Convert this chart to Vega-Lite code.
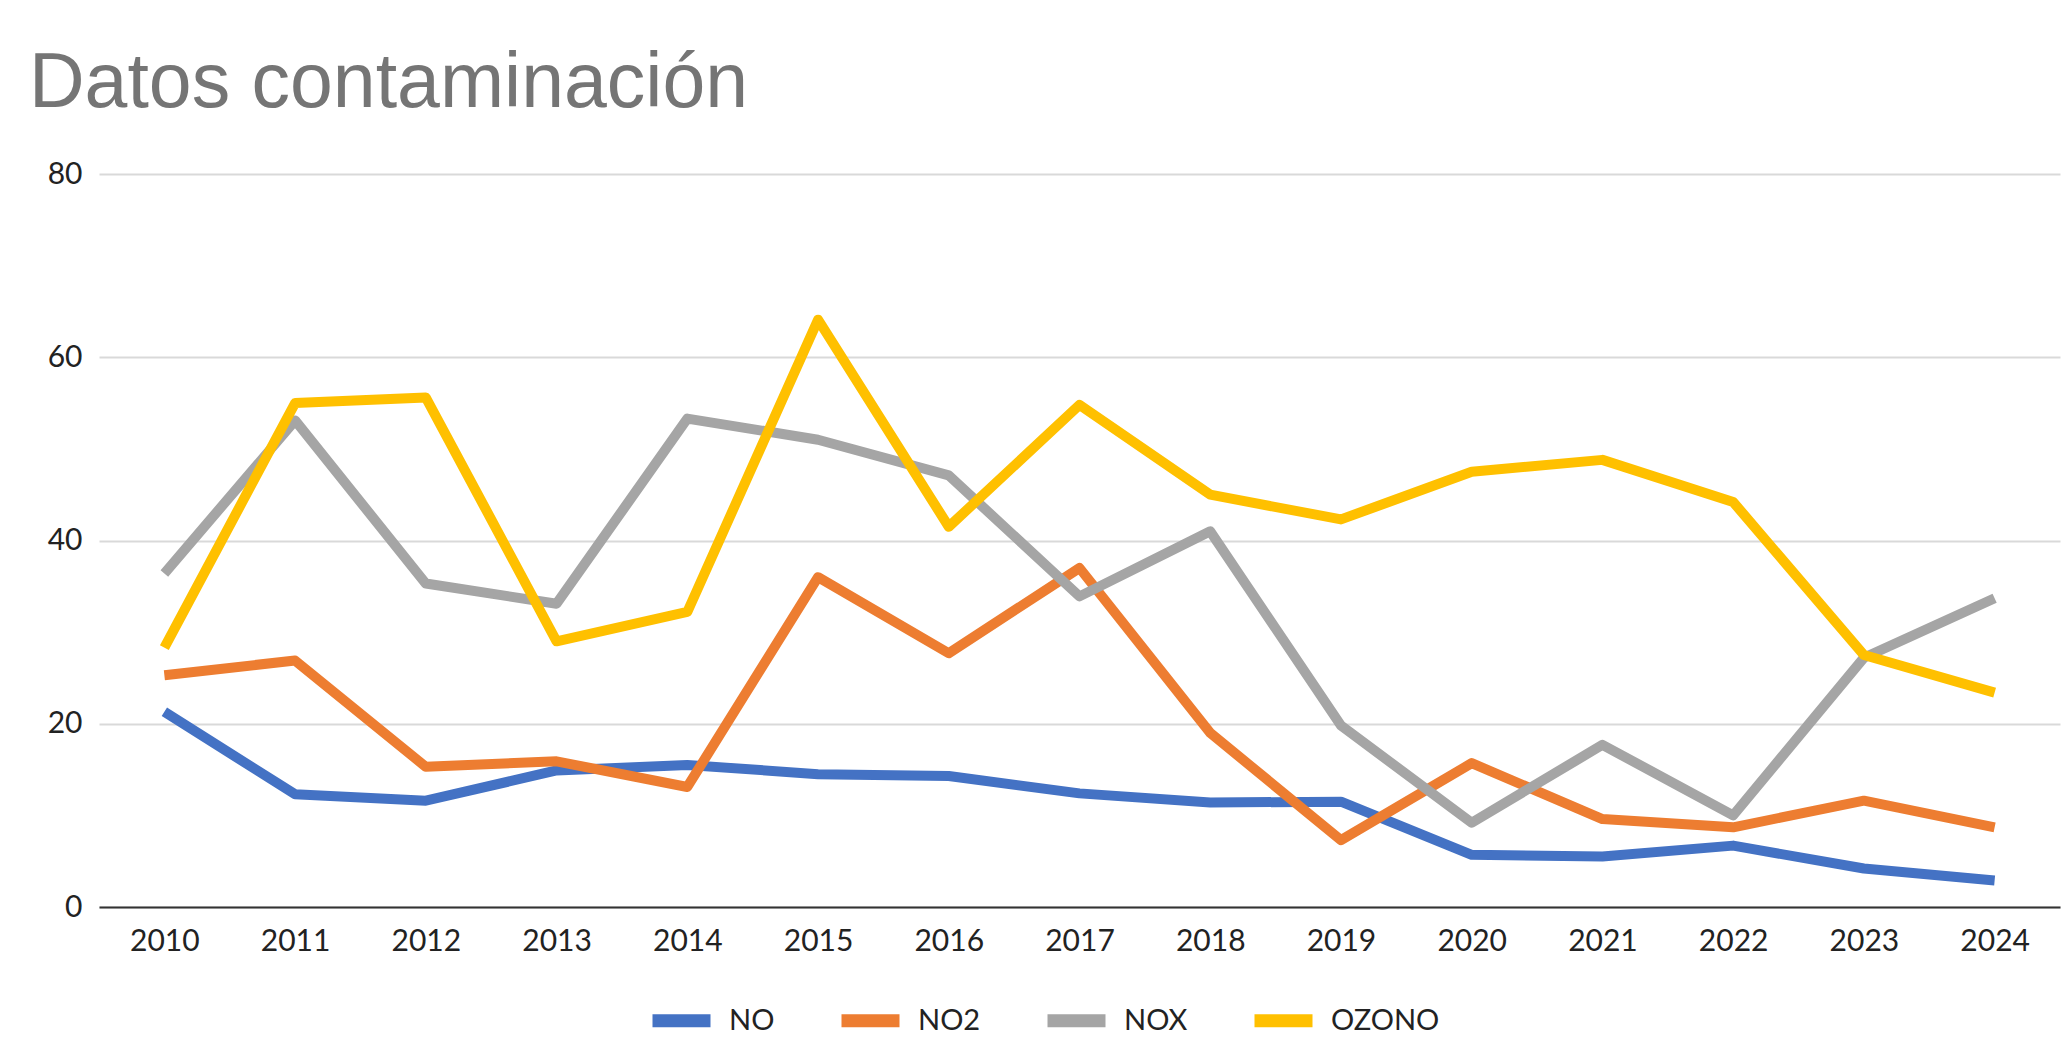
{
  "$schema": "https://vega.github.io/schema/vega-lite/v6.json",
  "autosize": {"type": "none"},
  "width": 1961,
  "height": 733,
  "padding": {"left": 99, "top": 174, "right": 11, "bottom": 157},
  "background": "#ffffff",
  "title": {
    "text": "Datos contaminación",
    "anchor": "start",
    "frame": "group",
    "font": "Liberation Sans",
    "fontSize": 77,
    "fontWeight": "normal",
    "color": "#757575",
    "dx": -70,
    "offset": 36
  },
  "config": {
    "view": {"stroke": null},
    "font": "Lato"
  },
  "data": {
    "values": [
      {"year": "2010", "serie": "NO", "valor": 21.3},
      {"year": "2011", "serie": "NO", "valor": 12.3},
      {"year": "2012", "serie": "NO", "valor": 11.6},
      {"year": "2013", "serie": "NO", "valor": 14.9},
      {"year": "2014", "serie": "NO", "valor": 15.5},
      {"year": "2015", "serie": "NO", "valor": 14.5},
      {"year": "2016", "serie": "NO", "valor": 14.3},
      {"year": "2017", "serie": "NO", "valor": 12.4},
      {"year": "2018", "serie": "NO", "valor": 11.4},
      {"year": "2019", "serie": "NO", "valor": 11.5},
      {"year": "2020", "serie": "NO", "valor": 5.7},
      {"year": "2021", "serie": "NO", "valor": 5.5},
      {"year": "2022", "serie": "NO", "valor": 6.7},
      {"year": "2023", "serie": "NO", "valor": 4.2},
      {"year": "2024", "serie": "NO", "valor": 2.9},
      {"year": "2010", "serie": "NO2", "valor": 25.3},
      {"year": "2011", "serie": "NO2", "valor": 26.9},
      {"year": "2012", "serie": "NO2", "valor": 15.3},
      {"year": "2013", "serie": "NO2", "valor": 15.9},
      {"year": "2014", "serie": "NO2", "valor": 13.1},
      {"year": "2015", "serie": "NO2", "valor": 36.0},
      {"year": "2016", "serie": "NO2", "valor": 27.7},
      {"year": "2017", "serie": "NO2", "valor": 37.0},
      {"year": "2018", "serie": "NO2", "valor": 19.0},
      {"year": "2019", "serie": "NO2", "valor": 7.3},
      {"year": "2020", "serie": "NO2", "valor": 15.7},
      {"year": "2021", "serie": "NO2", "valor": 9.6},
      {"year": "2022", "serie": "NO2", "valor": 8.7},
      {"year": "2023", "serie": "NO2", "valor": 11.6},
      {"year": "2024", "serie": "NO2", "valor": 8.7},
      {"year": "2010", "serie": "NOX", "valor": 36.4},
      {"year": "2011", "serie": "NOX", "valor": 53.1},
      {"year": "2012", "serie": "NOX", "valor": 35.3},
      {"year": "2013", "serie": "NOX", "valor": 33.1},
      {"year": "2014", "serie": "NOX", "valor": 53.3},
      {"year": "2015", "serie": "NOX", "valor": 51.0},
      {"year": "2016", "serie": "NOX", "valor": 47.1},
      {"year": "2017", "serie": "NOX", "valor": 33.9},
      {"year": "2018", "serie": "NOX", "valor": 41.0},
      {"year": "2019", "serie": "NOX", "valor": 19.8},
      {"year": "2020", "serie": "NOX", "valor": 9.2},
      {"year": "2021", "serie": "NOX", "valor": 17.7},
      {"year": "2022", "serie": "NOX", "valor": 10.0},
      {"year": "2023", "serie": "NOX", "valor": 27.2},
      {"year": "2024", "serie": "NOX", "valor": 33.7},
      {"year": "2010", "serie": "OZONO", "valor": 28.3},
      {"year": "2011", "serie": "OZONO", "valor": 55.0},
      {"year": "2012", "serie": "OZONO", "valor": 55.6},
      {"year": "2013", "serie": "OZONO", "valor": 29.0},
      {"year": "2014", "serie": "OZONO", "valor": 32.2},
      {"year": "2015", "serie": "OZONO", "valor": 64.1},
      {"year": "2016", "serie": "OZONO", "valor": 41.5},
      {"year": "2017", "serie": "OZONO", "valor": 54.8},
      {"year": "2018", "serie": "OZONO", "valor": 45.0},
      {"year": "2019", "serie": "OZONO", "valor": 42.3},
      {"year": "2020", "serie": "OZONO", "valor": 47.5},
      {"year": "2021", "serie": "OZONO", "valor": 48.8},
      {"year": "2022", "serie": "OZONO", "valor": 44.2},
      {"year": "2023", "serie": "OZONO", "valor": 27.5},
      {"year": "2024", "serie": "OZONO", "valor": 23.4}
    ]
  },
  "mark": {"type": "line", "strokeWidth": 10, "strokeJoin": "round", "strokeCap": "butt"},
  "encoding": {
    "x": {
      "field": "year",
      "type": "ordinal",
      "scale": {"type": "point", "padding": 0.5},
      "axis": {
        "title": null,
        "labelAngle": 0,
        "labelFontSize": 30,
        "labelColor": "#222222",
        "labelPadding": 19,
        "ticks": false,
        "grid": false,
        "domainColor": "#333333",
        "domainWidth": 2
      }
    },
    "y": {
      "field": "valor",
      "type": "quantitative",
      "scale": {"domain": [0, 80], "nice": false},
      "axis": {
        "title": null,
        "values": [0, 20, 40, 60, 80],
        "labelFontSize": 30,
        "labelColor": "#222222",
        "labelPadding": 17,
        "ticks": false,
        "domain": false,
        "gridColor": "#d9d9d9",
        "gridWidth": 2
      }
    },
    "color": {
      "field": "serie",
      "type": "nominal",
      "scale": {
        "domain": ["NO", "NO2", "NOX", "OZONO"],
        "range": ["#4472C4", "#ED7D31", "#A5A5A5", "#FFC000"]
      },
      "legend": {
        "title": null,
        "orient": "none",
        "direction": "horizontal",
        "legendX": 547,
        "legendY": 811,
        "padding": 0,
        "symbolType": "stroke",
        "symbolSize": 3364,
        "symbolStrokeWidth": 13,
        "labelFontSize": 29,
        "labelColor": "#222222",
        "labelOffset": 12,
        "columnPadding": 40
      }
    }
  }
}
